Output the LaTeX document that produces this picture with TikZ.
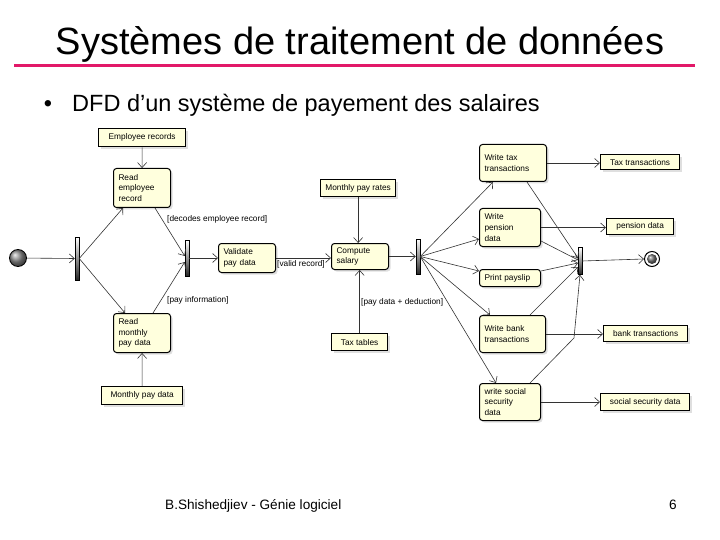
\documentclass[tikz,border=0pt]{standalone}
\usepackage{fontspec}
\setmainfont{Liberation Sans}
\usetikzlibrary{arrows.meta,shadows,calc}
\definecolor{nodefill}{RGB}{255,255,221}
\definecolor{rulepink}{RGB}{226,24,104}
\begin{document}
\begin{tikzpicture}[x=1pt,y=-1pt,
 arr/.style={draw=black!80, line width=0.6pt, -{Straight Barb[length=5pt,width=9pt]}},
 base/.style={draw, fill=nodefill, anchor=north west, font=\fontsize{8.3}{10.7}\selectfont, drop shadow={shadow xshift=2pt,shadow yshift=-2pt,fill=black!25}},
 act/.style={base, rounded corners=3pt, line width=1pt, align=left, inner xsep=5pt, inner ysep=1pt},
 obj/.style={base, line width=1.3pt, align=center, inner sep=1pt},
 bar/.style={draw, line width=0.5pt, top color=white, bottom color=black!85, minimum width=4pt, inner sep=0pt},
 lbl/.style={anchor=west, font=\fontsize{8.3}{10}\selectfont, inner sep=0pt}
]
\useasboundingbox (0,0) rectangle (720,540);

% header
\node[anchor=base, font=\fontsize{38}{40}\selectfont, inner sep=0pt] (title) at (360,55) {Systèmes de traitement de données};
\draw[rulepink, line width=3pt] (14,66) -- (695,66);
\node[anchor=base, font=\fontsize{23.5}{26}\selectfont, inner sep=0pt] (bullet) at (48,112) {•};
\node[anchor=base west, font=\fontsize{23.5}{26}\selectfont, inner sep=0pt] (sub) at (72,112) {DFD d’un système de payement des salaires};

% footer
\node[anchor=base west, font=\fontsize{13.6}{15}\selectfont, inner sep=0pt] (foot) at (165,509) {B.Shishedjiev - Génie logiciel};
\node[anchor=base, font=\fontsize{13.6}{15}\selectfont, inner sep=0pt] (page) at (673,509) {6};

% start / end
\node[circle, draw, line width=0.8pt, ball color=black!45, minimum size=17pt, inner sep=0pt] (init) at (18,258) {};
\node[circle, draw, line width=1pt, fill=white, minimum size=15pt, inner sep=0pt] (final) at (652,259) {};
\node[circle, ball color=black!55, minimum size=10pt, inner sep=0pt] (finalin) at (final.center) {};

% bars
\node[bar, minimum height=43pt] (f1) at (77,258.5) {};
\node[bar, minimum height=36pt] (j2) at (187,258) {};
\node[bar, minimum height=35pt] (f3) at (418,256.5) {};
\node[bar, minimum height=27pt, minimum width=3.5pt] (j4) at (580,261) {};

% objects
\node[obj, minimum width=87pt, minimum height=18pt] (er) at (98,128) {Employee records};
\node[obj, minimum width=81pt, minimum height=18pt] (mpd) at (101,386) {Monthly pay data};
\node[obj, minimum width=75pt, minimum height=17pt] (mpr) at (320,179) {Monthly pay rates};
\node[obj, minimum width=56pt, minimum height=17pt] (tt) at (331,333) {Tax tables};
\node[obj, minimum width=79pt, minimum height=15pt] (ttr) at (600,154) {Tax transactions};
\node[obj, minimum width=67pt, minimum height=16pt] (pd) at (606,218) {pension data};
\node[obj, minimum width=84pt, minimum height=16pt] (bt) at (603,325) {bank transactions};
\node[obj, minimum width=89pt, minimum height=17pt] (ssd) at (600,393) {social security data};

% actions
\node[act, minimum width=57pt, minimum height=39pt, text width=47pt] (rer) at (113,168) {Read\\employee\\record};
\node[act, minimum width=57pt, minimum height=39pt, text width=47pt] (rmp) at (113,313) {Read\\monthly\\pay data};
\node[act, minimum width=57pt, minimum height=29pt, text width=47pt] (vpd) at (218,243) {Validate\\pay data};
\node[act, minimum width=57pt, minimum height=26pt, text width=47pt] (cs) at (331,243) {Compute\\salary};
\node[act, minimum width=67pt, minimum height=37pt, text width=57pt] (wtt) at (479,144) {Write tax\\transactions};
\node[act, minimum width=61pt, minimum height=38pt, text width=51pt] (wpd) at (479,208) {Write\\pension\\data};
\node[act, minimum width=61pt, minimum height=17pt, text width=51pt] (ps) at (479,269) {Print payslip};
\node[act, minimum width=66pt, minimum height=37pt, text width=56pt] (wbt) at (479,315) {Write bank\\transactions};
\node[act, minimum width=61pt, minimum height=37pt, text width=51pt] (wss) at (479,383) {write social\\security\\data};

% guard labels
\node[lbl] (l1) at (167,219) {[decodes employee record]};
\node[lbl] (l2) at (167,300) {[pay information]};
\node[lbl] (l3) at (277,264) {[valid record]};
\node[lbl] (l4) at (361,302) {[pay data + deduction]};

% flows
\draw[arr] (init) -- (f1.west);
\draw[arr] (f1.east) -- ([xshift=10pt]rer.south west);
\draw[arr] (f1.east) -- ([xshift=12pt]rmp.north west);
\draw[arr] (er) -- (rer);
\draw[arr] (mpd) -- (rmp);
\draw[arr] ([xshift=42pt]rer.south west) -- ([yshift=2pt]j2.west);
\draw[arr] ([xshift=40pt]rmp.north west) -- ([yshift=-4pt]j2.west);
\draw[arr] (j2.east) -- (vpd.west);
\draw[arr] (vpd.east) -- (vpd.east -| cs.west);
\draw[arr] (mpr.south) -- (mpr.south |- cs.north);
\draw[arr] (tt.north) -- (tt.north |- cs.south);
\draw[arr] (cs.east) -- (f3.west);
\draw[arr] (f3.east) -- ([xshift=14pt]wtt.south west);
\draw[arr] (f3.east) -- ([yshift=8pt]wpd.south west);
\draw[arr] (f3.east) -- ([yshift=-2pt]ps.north west);
\draw[arr] (f3.east) -- ([xshift=11pt]wbt.north west);
\draw[arr] (f3.east) -- ([xshift=17pt]wss.north west);
\draw[arr] (wtt.east) -- (wtt.east -| ttr.west);
\draw[arr] (wpd.east) -- (wpd.east -| pd.west);
\draw[arr] (wbt.east) -- (wbt.east -| bt.west);
\draw[arr] (wss.east) -- (wss.east -| ssd.west);
\draw[arr] ([xshift=48pt]wtt.south west) -- ([yshift=3pt]j4.west);
\draw[arr] ([yshift=6pt]wpd.south east) -- ([yshift=1pt]j4.west);
\draw[arr] ([yshift=-2pt]ps.north east) -- ([yshift=-2pt]j4.west);
\draw[arr] ([xshift=51pt]wbt.north west) -- ([yshift=-6pt]j4.west);
\coordinate (bend) at (574,338);
\draw[arr] ([xshift=51pt]wss.north west) -- (bend) -- (j4.south);
\draw[arr] (j4.east) -- (final.west);
\end{tikzpicture}
\end{document}
